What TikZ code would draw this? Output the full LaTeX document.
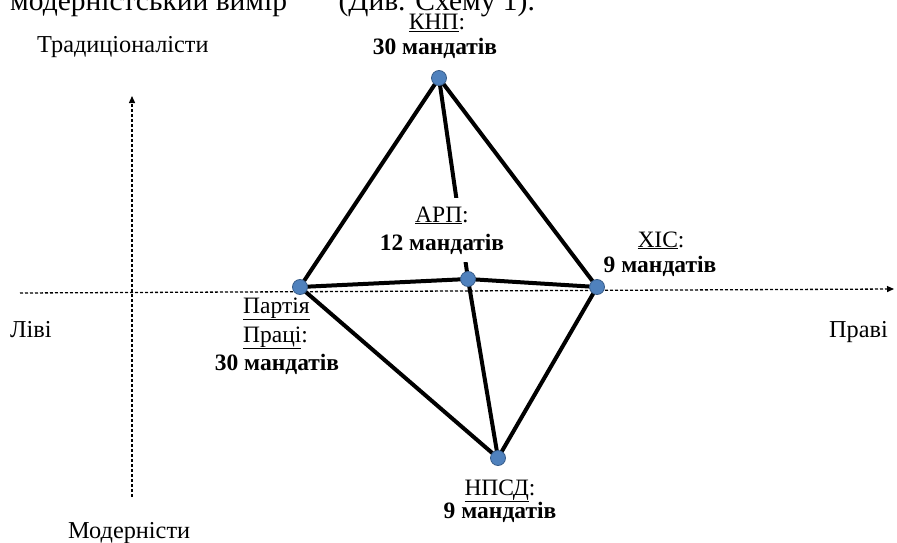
\documentclass[tikz,border=0pt]{standalone}
\usepackage{fontspec}
\setmainfont{Liberation Serif}
\usetikzlibrary{arrows.meta,backgrounds}
\definecolor{nodeblue}{RGB}{79,129,189}
\definecolor{nodeedge}{RGB}{56,93,138}
\begin{document}
\begin{tikzpicture}[x=1pt,y=-1pt,
  party/.style={circle,fill=nodeblue,draw=nodeedge,line width=0.8pt,minimum size=15pt,inner sep=0pt},
  link/.style={line width=4pt,line cap=round},
  axisline/.style={line width=1.3pt,dash pattern=on 3pt off 2pt,-{Triangle[length=7pt,width=6pt]}},
  txt/.style={font=\fontsize{24.3}{28}\selectfont,inner sep=0pt},
  lbl/.style={font=\fontsize{23.5}{28}\selectfont,inner sep=0pt},
  seats/.style={font=\fontsize{23.5}{28}\selectfont\bfseries,inner sep=0pt}]
\clip (0,0) rectangle (897,543);

% cut-off line of text at the top
\node[font=\fontsize{29.5}{32}\selectfont,inner sep=0pt,anchor=base west] (topline) at (10,11)
  {модерністський вимір”\hspace{1.3em}(Див. Схему 1).};

% axes
\coordinate (hl) at (20,293);
\coordinate (hr) at (894,289);
\coordinate (vb) at (132,497);
\coordinate (vt) at (132,96);
\draw[axisline] (hl) -- (hr);
\draw[axisline] (vb) -- (vt);

\node[txt,anchor=base west] (trad) at (37,53) {Традиціоналісти};
\node[txt,anchor=base west] (modern) at (68,538) {Модерністи};
\node[txt,anchor=base west] (left) at (10,337) {Ліві};
\node[txt,anchor=base east] (right) at (888,337) {Праві};

% parties
\node[party] (knp) at (439,78) {};
\node[party] (apr) at (468,279) {};
\node[party] (labour) at (300,287) {};
\node[party] (xic) at (597,287) {};
\node[party] (npsd) at (498,458) {};

\begin{scope}[on background layer]
  \draw[link] (knp.center) -- (labour.center);
  \draw[link] (knp.center) -- (xic.center);
  \draw[link] (knp.center) -- (apr.center);
  \draw[link] (labour.center) -- (apr.center);
  \draw[link] (apr.center) -- (xic.center);
  \draw[link] (labour.center) -- (npsd.center);
  \draw[link] (apr.center) -- (npsd.center);
  \draw[link] (xic.center) -- (npsd.center);
\end{scope}

% labels
\node[lbl,anchor=base] (knpname) at (437,30) {\underline{КНП}:};
\node[seats,anchor=base] (knpseats) at (435,55) {30 мандатів};

\node[lbl,anchor=base,fill=white,align=center,inner ysep=8pt,inner xsep=4pt] (aprlabel) at (442,250)
  {\underline{АРП}:\\[0pt]\textbf{12 мандатів}};

\node[lbl,anchor=base] (xicname) at (661,247) {\underline{ХІС}:};
\node[seats,anchor=base] (xicseats) at (660,272) {9 мандатів};

\node[lbl,anchor=base west] (labname1) at (243,313) {\underline{Партія}};
\node[lbl,anchor=base west] (labname2) at (243,342) {\underline{Праці}:};
\node[seats,anchor=base] (labseats) at (277,370) {30 мандатів};

\node[lbl,anchor=base] (npsdname) at (500,495) {\underline{НПСД}:};
\node[seats,anchor=base] (npsdseats) at (500,518) {9 мандатів};
\end{tikzpicture}
\end{document}
